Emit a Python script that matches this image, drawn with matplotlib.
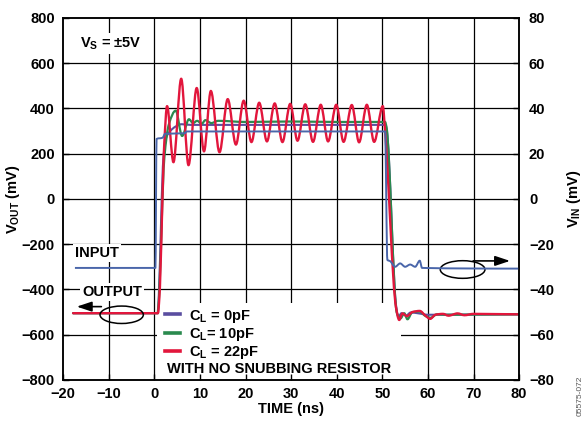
import numpy as np
import matplotlib.pyplot as plt
from matplotlib.path import Path
from matplotlib.patches import PathPatch, Ellipse, Rectangle
from matplotlib.lines import Line2D

plt.rcParams['font.family'] = ['Liberation Sans', 'DejaVu Sans']
plt.rcParams['font.weight'] = 'bold'
plt.rcParams['axes.labelweight'] = 'bold'
plt.rcParams['mathtext.fontset'] = 'custom'
plt.rcParams['mathtext.rm'] = 'Liberation Sans:bold'
plt.rcParams['mathtext.it'] = 'Liberation Sans:bold'
plt.rcParams['mathtext.bf'] = 'Liberation Sans:bold'

# Output, C_L = 22pF (mV, left axis) - nodes
t_22 = [-17.8, 0.8, 1.1, 2.2, 2.8, 4.2, 5.9, 7.5, 9.3, 10.9, 12.4, 14.3, 16.1, 17.9,
        19.6, 21.3, 23.0, 24.7, 26.4, 28.1, 29.8, 31.4, 33.1, 34.8, 36.5, 38.1,
        39.9, 41.5, 43.3, 44.9, 46.6, 48.2, 50.1, 50.6, 53.0, 53.7, 54.4, 55.4,
        56.6, 58.2, 59.4, 60.5, 61.6, 63.3, 64.5, 66.5, 68.0, 70.0, 80.0]
v_22 = [-505, -505, -440, 250, 410, 162, 531, 149, 490, 210, 477, 206, 441, 240,
        434, 251, 425, 254, 422, 251, 420, 257, 418, 252, 416, 254,
        416, 252, 415, 250, 416, 252, 410, 300, -480, -535, -506, -518,
        -500, -495, -515, -530, -512, -508, -516, -506, -514, -508, -510]

# Output, C_L = 10pF
t_10 = [-17.8, 0.7, 0.95, 2.2, 3.2, 4.7, 6.1, 7.6, 8.5, 9.4, 10.4, 11.2, 12.5, 14.0,
        20.0, 30.0, 40.0, 50.6, 50.9, 53.2, 54.0, 54.8, 55.5, 56.6, 58.2, 59.5,
        60.6, 62.0, 64.0, 80.0]
v_10 = [-505, -505, -460, 180, 330, 390, 278, 352, 335, 345, 332, 348, 335, 345,
        340, 342, 340, 340, 318, -505, -528, -505, -532, -500, -498, -518,
        -525, -510, -512, -510]

# Output, C_L = 0pF
t_0 = [-17.8, 0.8, 1.0, 2.0, 2.6, 3.5, 4.7, 6.0, 8.0, 50.7, 51.0, 53.0, 53.5,
       54.2, 55.2, 56.2, 58.0, 60.0, 80.0]
v_0 = [-505, -505, -420, 180, 270, 300, 320, 330, 327, 327, 300, -470, -522,
       -505, -516, -502, -506, -512, -510]

# Input (mV, right axis)
t_in = [-17.4, 0.25, 0.5, 1.8, 2.4, 6.7, 7.1, 50.6, 51.1, 51.7, 52.8, 53.9, 55.0,
        56.1, 57.2, 58.2, 58.7, 80.0]
v_in = [-30.5, -30.5, 26.5, 27.0, 28.8, 29.0, 29.8, 29.8, -27.0, -27.5, -30.0,
        -28.5, -30.0, -29.0, -30.0, -27.3, -30.5, -30.8]

series = [
    ('C$_L$ = 0pF', t_0, v_0, '#5a4ea0', 1.5),
    ('C$_L$= 10pF', t_10, v_10, '#2a8a4e', 1.6),
    ('C$_L$ = 22pF', t_22, v_22, '#e2163c', 1.7),
]


def smooth_path(t, v):
    # monotone cubic (PCHIP-style) Bezier through the nodes
    t = np.asarray(t, float)
    v = np.asarray(v, float)
    h = np.diff(t)
    d = np.diff(v) / h
    m = np.zeros_like(v)
    for k in range(1, len(v) - 1):
        if d[k - 1] * d[k] > 0:
            w1 = 2 * h[k] + h[k - 1]
            w2 = h[k] + 2 * h[k - 1]
            m[k] = (w1 + w2) / (w1 / d[k - 1] + w2 / d[k])
    verts = [(t[0], v[0])]
    codes = [Path.MOVETO]
    for k in range(len(h)):
        verts += [(t[k] + h[k] / 3, v[k] + m[k] * h[k] / 3),
                  (t[k + 1] - h[k] / 3, v[k + 1] - m[k + 1] * h[k] / 3),
                  (t[k + 1], v[k + 1])]
        codes += [Path.CURVE4] * 3
    return Path(verts, codes)


fig = plt.figure(figsize=(5.84, 4.25), dpi=100)
ax = fig.add_axes([0.108, 0.106, 0.781, 0.852])
ax.set_xlim(-20, 80)
ax.set_ylim(-800, 800)
ax.set_xticks(np.arange(-20, 81, 10))
ax.set_yticks(np.arange(-800, 801, 200))

for x in range(-10, 80, 10):
    ax.axvline(x, color='black', lw=0.9, zorder=1)
for y in range(-600, 800, 200):
    ax.axhline(y, color='black', lw=0.9, zorder=1)

# white area behind the legend text
ax.add_patch(Rectangle((0.7, -800), 53.3, 340, facecolor='white',
                       edgecolor='none', zorder=1.2))

handles = []
for label, t, v, col, lw in series:
    ax.add_patch(PathPatch(smooth_path(t, v), fill=False, edgecolor=col,
                           lw=lw, joinstyle='round', capstyle='round', zorder=2))
    handles.append(Line2D([], [], color=col, lw=2.6))

ax.legend(handles, [s[0] for s in series], loc='upper left',
          bbox_to_anchor=(0.224, 0.2), frameon=False, handlelength=1.0,
          handletextpad=0.6, labelspacing=0.1, borderpad=0, borderaxespad=0,
          prop={'size': 10.5, 'weight': 'bold'})

ax.text(2.8, -752, 'WITH NO SNUBBING RESISTOR', fontsize=10.5, va='center', zorder=3)

box = dict(facecolor='white', edgecolor='none', pad=1.5)
ax.text(-16.3, 686, 'V$_S$ = ±5V', fontsize=10.5, va='center', bbox=box, zorder=3)
ax.text(-17.4, -239, 'INPUT', fontsize=10.5, va='center', bbox=box, zorder=3)
ax.text(-15.8, -412, 'OUTPUT', fontsize=10.5, va='center', bbox=box, zorder=3)

ax.add_patch(Ellipse((-7.15, -512), 9.5, 77, fill=False, edgecolor='black',
                     lw=1.1, zorder=4))
ax.annotate('', xy=(-17.6, -476), xytext=(-11.0, -476),
            arrowprops=dict(arrowstyle='-|>,head_length=0.9,head_width=0.3',
                            color='black', lw=1.2), zorder=4)
ax.add_patch(Ellipse((67.6, -312), 9.8, 78, fill=False, edgecolor='black',
                     lw=1.1, zorder=4))
ax.annotate('', xy=(78.6, -274), xytext=(69.3, -274),
            arrowprops=dict(arrowstyle='-|>,head_length=0.9,head_width=0.3',
                            color='black', lw=1.2), zorder=4)

ax.tick_params(direction='in', length=4, width=1, labelsize=10.5)
ax.tick_params(axis='x', pad=5)
ax.tick_params(axis='y', pad=6)
for lab in ax.get_xticklabels() + ax.get_yticklabels():
    lab.set_fontweight('bold')
ax.set_xlabel('TIME (ns)', fontsize=10.5, fontweight='bold', labelpad=1)
ax.set_ylabel('V$_{OUT}$ (mV)', fontsize=10.5, fontweight='bold')
ax.yaxis.set_label_coords(-0.09, 0.5)
for s in ax.spines.values():
    s.set_linewidth(1.1)

ax2 = ax.twinx()
ax2.set_ylim(-80, 80)
ax2.set_yticks(np.arange(-80, 81, 20))
ax2.add_patch(PathPatch(smooth_path(t_in, v_in), fill=False, edgecolor='#4a66aa',
                        lw=1.4, joinstyle='round', zorder=2))
ax2.tick_params(direction='in', length=4, width=1, labelsize=10.5, pad=7)
for lab in ax2.get_yticklabels():
    lab.set_fontweight('bold')
ax2.set_ylabel('V$_{IN}$ (mV)', fontsize=10.5, fontweight='bold', rotation=90)
ax2.yaxis.set_label_coords(1.1, 0.5)
for s in ax2.spines.values():
    s.set_linewidth(1.1)

fig.text(0.988, 0.02, '05575-072', rotation=90, fontsize=6, color='#555555',
         fontweight='normal', va='bottom')

fig.savefig('out.png', dpi=100)
